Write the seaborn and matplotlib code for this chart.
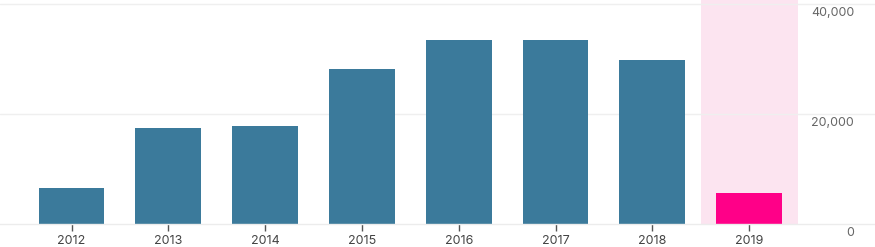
import matplotlib
matplotlib.use("Agg")
import matplotlib.pyplot as plt
import matplotlib.transforms as mtransforms
import seaborn as sns
import pandas as pd

years = ["2012", "2013", "2014", "2015", "2016", "2017", "2018", "2019"]
values = [6500, 17400, 17750, 28100, 33400, 33400, 29750, 5700]
highlight_year = "2019"
y_ticks = [0, 20000, 40000]
y_tick_labels = ["0", "20,000", "40,000"]

base_color = "#3b7a9b"
hi_color = "#ff0088"
band_color = "#fce4f0"

sns.set_theme(style="white")
plt.rcParams["font.family"] = ["Inter", "DejaVu Sans"]

df = pd.DataFrame({"year": years, "value": values})
palette = {y: (hi_color if y == highlight_year else base_color) for y in years}

fig = plt.figure(figsize=(8.75, 2.47), dpi=100)
ax = fig.add_axes([0, 23 / 247, 1, 224 / 247])

hi_idx = years.index(highlight_year)
ax.axvspan(hi_idx - 0.5, hi_idx + 0.5, color=band_color, zorder=0, lw=0)

sns.barplot(data=df, x="year", y="value", hue="year", palette=palette,
            width=0.68, saturation=1, legend=False, ax=ax, zorder=2,
            linewidth=0, edgecolor="none")

ax.set_xlim(-0.739, 8.30)
ax.set_ylim(0, 40727)

for s in ["top", "right", "left"]:
    ax.spines[s].set_visible(False)
ax.spines["bottom"].set_color("#ececec")
ax.spines["bottom"].set_linewidth(1)

for t in y_ticks[1:]:
    ax.axhline(t, color="#efefef", lw=1, zorder=1)

ax.set_yticks([])
ax.set_xlabel("")
ax.set_ylabel("")
ax.tick_params(axis="x", length=5, width=1, color="#555555", pad=3,
               labelsize=9, labelcolor="#444444", bottom=True)

trans = mtransforms.blended_transform_factory(ax.transAxes, ax.transData)
offset = mtransforms.ScaledTranslation(0, -9 / 100, fig.dpi_scale_trans)
for t, lab in zip(y_ticks, y_tick_labels):
    ax.text(854 / 875, t, lab, transform=trans + offset, ha="right", va="center",
            fontsize=9, color="#666666")

fig.savefig("out.png", dpi=100)
